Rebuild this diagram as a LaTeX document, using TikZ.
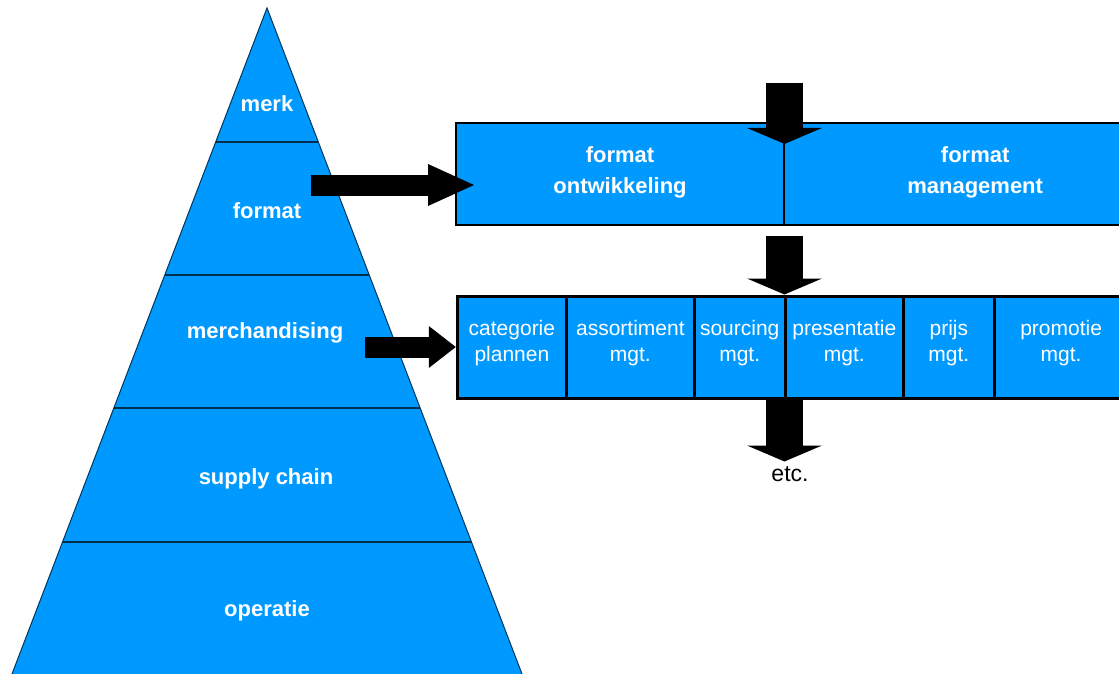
\documentclass[tikz,border=0pt]{standalone}
\usepackage{fontspec}
\setmainfont{Liberation Sans}
\usepackage{tikz}
\usetikzlibrary{calc, arrows.meta}
\definecolor{pblue}{HTML}{0099FF}

\begin{document}
\begin{tikzpicture}[x=1pt, y=-1pt,
		pyrtext/.style={text=white, anchor=base, font=\fontsize{22}{26}\selectfont\bfseries},
		topcell/.style={draw, line width=2pt, fill=pblue, minimum height=102.5pt, inner sep=0pt, text=white, align=center, font=\fontsize{22}{30.7}\selectfont\bfseries, text depth=8pt},
		lowcell/.style={draw, line width=3pt, fill=pblue, minimum height=102pt, inner sep=0pt, text=white, align=center, font=\fontsize{21}{26}\selectfont, text depth=12.4pt},
		harrow/.style={line width=21pt, -{Triangle[width=42pt, length=#1, line width=0pt]}},
		varrow/.style={line width=37.5pt, -{Triangle[width=75pt, length=16pt, line width=0pt]}}]
		\def\ax{267};
		\def\ay{8};
		\def\s{0.3829};
		
		\useasboundingbox (0,0) rectangle (1119,674);
		\clip (0,0) rectangle (1119,674);
		
		% pyramid
		\filldraw[fill=pblue, draw=pblue!35!black, line width=1pt] (\ax,\ay) -- ({\ax-\s*(684-\ay)},684) -- ({\ax+\s*(684-\ay)},684) -- cycle;
		\foreach \y in {142,275,408,542}
			\draw[line width=1.3pt, pblue!30!black] ({\ax-\s*(\y-\ay)},\y) -- ({\ax+\s*(\y-\ay)},\y);
		
		\node[pyrtext] (merk) at (267,112) {merk};
		\node[pyrtext] (format) at (267,218) {format};
		\node[pyrtext] (merch) at (265,338) {merchandising};
		\node[pyrtext] (supply) at (266,484) {supply chain};
		\node[pyrtext] (operatie) at (267,616) {operatie};
		
		% format boxes
		\node[topcell, minimum width=328.6pt] (ontw) at (620,174.2) {format\\ontwikkeling};
		\node[topcell, minimum width=381.7pt] (mgmt) at (975.15,174.2) {format\\management};
		
		% merchandising boxes
		\node[lowcell, minimum width=109.2pt] (cat) at (511.9,347) {categorie\\plannen};
		\node[lowcell, minimum width=127.7pt] (ass) at (630.35,347) {assortiment\\mgt.};
		\node[lowcell, minimum width=91pt] (src) at (739.7,347) {sourcing\\mgt.};
		\node[lowcell, minimum width=118.2pt] (pres) at (844.3,347) {presentatie\\mgt.};
		\node[lowcell, minimum width=90.9pt] (prijs) at (948.85,347) {prijs\\mgt.};
		\node[lowcell, minimum width=133.7pt] (promo) at (1061.15,347) {promotie\\mgt.};
		
		\coordinate (fmtout) at (310.6,185);
		\coordinate (merchout) at (365,347);
		\coordinate (topin) at (784.5,82.7);
		
		\begin{scope}[black]
			\draw[harrow=46pt] (fmtout) -- ($(ontw.west |- fmtout)+(19.3,0)$);
			\draw[harrow=27pt] (merchout) -- (cat.west);
			\draw[varrow] (topin) -- ($(topin |- ontw.north)+(0,22)$);
			\draw[varrow] ($(topin |- ontw.south)+(0,10)$) -- (topin |- pres.north);
			\draw[varrow] (topin |- pres.south) -- ($(topin |- pres.south)+(0,62)$);
		\end{scope}
		
		\node[anchor=base, font=\fontsize{23}{26}\selectfont] (etc) at (790,481.5) {etc.};
	\end{tikzpicture}
\end{document}
